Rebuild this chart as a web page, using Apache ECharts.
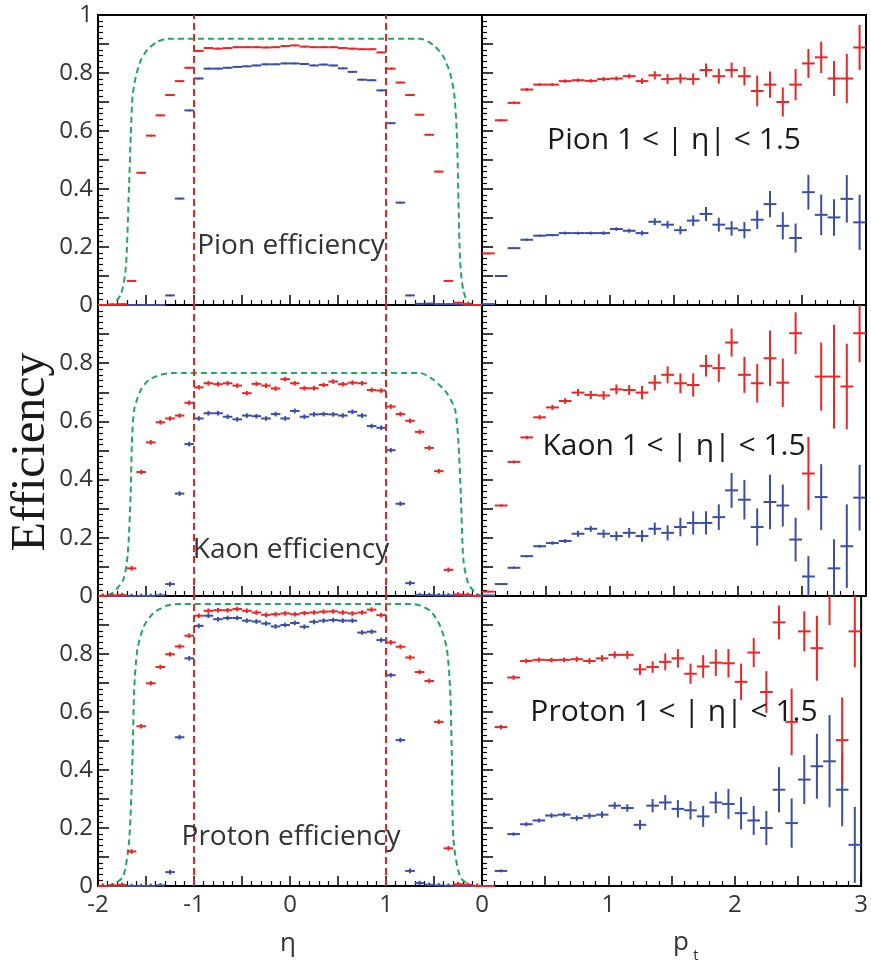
<!DOCTYPE html>
<html><head><meta charset="utf-8">
<script src="https://cdn.jsdelivr.net/npm/echarts@6/dist/echarts.min.js"></script>
<style>html,body{margin:0;padding:0;background:#fff}#c{width:871px;height:964px}</style>
</head><body><div id="c"></div>
<script>
// ---------- DATA ----------
const etaBins = [-1.95,-1.85,-1.75,-1.65,-1.55,-1.45,-1.35,-1.25,-1.15,-1.05,-0.95,-0.85,-0.75,-0.65,-0.55,-0.45,-0.35,-0.25,-0.15,-0.05,
                 0.05,0.15,0.25,0.35,0.45,0.55,0.65,0.75,0.85,0.95,1.05,1.15,1.25,1.35,1.45,1.55,1.65,1.75,1.85,1.95];
const ptBins = [0.05,0.15,0.25,0.35,0.45,0.55,0.65,0.75,0.85,0.95,1.05,1.15,1.25,1.35,1.45,1.55,1.65,1.75,1.85,1.95,
                2.05,2.15,2.25,2.35,2.45,2.55,2.65,2.75,2.85,2.95];
const etaBinWidth = 0.1;
const ptBinWidth = 0.1;

// efficiency vs eta (red = one selection, blue = the other)
const pionEtaRed  = [0,0.002,0.003,0.083,0.456,0.584,0.654,0.724,0.772,0.818,0.876,0.886,0.884,0.886,0.889,0.889,0.889,0.888,0.889,0.893,
                     0.895,0.891,0.889,0.889,0.889,0.886,0.884,0.882,0.882,0.871,0.815,0.767,0.724,0.656,0.587,0.460,0.083,0.008,0.004,0];
const pionEtaBlue = [0,0,0,0,0,0,0,0.033,0.367,0.671,0.781,0.815,0.815,0.818,0.821,0.823,0.826,0.830,0.830,0.833,
                     0.833,0.831,0.826,0.829,0.826,0.816,0.804,0.777,0.775,0.740,0.627,0.353,0.033,0.004,0.005,0.003,0.003,0.002,0,0];
const pionEtaErr = 0.003;
const kaonEtaRed  = [0,0.002,0.003,0.095,0.426,0.528,0.597,0.610,0.620,0.664,0.717,0.731,0.728,0.731,0.723,0.697,0.729,0.723,0.713,0.745,
                     0.731,0.714,0.714,0.725,0.737,0.728,0.733,0.731,0.708,0.706,0.651,0.625,0.602,0.564,0.509,0.429,0.090,0.005,0.004,0];
const kaonEtaBlue = [0,0,0,0,0,0,0.002,0.041,0.352,0.522,0.610,0.628,0.628,0.616,0.607,0.620,0.618,0.610,0.625,0.610,
                     0.636,0.616,0.624,0.625,0.624,0.620,0.633,0.620,0.584,0.578,0.501,0.317,0.044,0.003,0.003,0.002,0.002,0.001,0,0];
const kaonEtaErr = 0.008;
const protonEtaRed  = [0,0.002,0.004,0.119,0.551,0.699,0.755,0.799,0.826,0.863,0.932,0.949,0.951,0.951,0.955,0.949,0.943,0.935,0.937,0.940,
                       0.937,0.941,0.943,0.946,0.947,0.943,0.940,0.943,0.953,0.934,0.840,0.825,0.788,0.738,0.707,0.566,0.130,0.006,0.004,0];
const protonEtaBlue = [0,0,0,0,0,0,0.002,0.048,0.513,0.785,0.897,0.932,0.920,0.924,0.924,0.915,0.912,0.905,0.895,0.900,
                       0.907,0.894,0.911,0.915,0.917,0.915,0.915,0.874,0.877,0.848,0.727,0.503,0.052,0.010,0.004,0.002,0.001,0,0,0];
const protonEtaErr = 0.008;

// geometric acceptance curves (green dashed)
const pionAccEta = [-2.0,-1.866,-1.762,-1.71,-1.682,-1.658,-1.64,-1.606,-1.554,-1.484,-1.38,-1.277,1.357,1.495,1.599,1.668,1.71,1.738,1.755,1.772,1.807,1.876,2.0];
const pionAccVal = [0,0,0.037,0.13,0.36,0.59,0.72,0.787,0.844,0.881,0.908,0.918,0.918,0.896,0.856,0.798,0.729,0.59,0.36,0.152,0.048,0.002,0];
const kaonAccEta = [-2.0,-1.866,-1.74,-1.69,-1.66,-1.647,-1.623,-1.554,-1.47,-1.346,-1.24,1.357,1.495,1.634,1.72,1.755,1.779,1.807,1.859,1.945,2.0];
const kaonAccVal = [0,0.007,0.053,0.145,0.35,0.524,0.64,0.708,0.743,0.76,0.766,0.766,0.743,0.697,0.639,0.524,0.352,0.122,0.041,0.007,0];
const protonAccEta = [-2.0,-1.866,-1.74,-1.675,-1.64,-1.623,-1.589,-1.52,-1.416,-1.277,-1.15,1.287,1.46,1.564,1.634,1.668,1.686,1.703,1.772,1.876,2.0];
const protonAccVal = [0,0.003,0.032,0.159,0.448,0.678,0.817,0.897,0.943,0.967,0.972,0.972,0.949,0.897,0.817,0.678,0.448,0.159,0.032,0.003,0];

// efficiency vs pt for 1 < |eta| < 1.5
const pionPtRed  = [0.178,0.637,0.697,0.743,0.760,0.760,0.772,0.775,0.773,0.779,0.781,0.789,0.772,0.792,0.779,0.781,0.779,0.810,0.789,0.810,
                    0.789,0.738,0.760,0.700,0.760,0.833,0.854,0.781,0.781,0.888];
const pionPtRedErr = [0.003,0.004,0.005,0.005,0.005,0.005,0.006,0.006,0.006,0.007,0.007,0.008,0.010,0.014,0.017,0.017,0.020,0.023,0.026,0.026,
                      0.032,0.053,0.045,0.050,0.054,0.050,0.054,0.060,0.085,0.078];
const pionPtBlue = [0.003,0.100,0.196,0.225,0.239,0.241,0.248,0.248,0.248,0.248,0.262,0.256,0.248,0.287,0.277,0.258,0.291,0.314,0.277,0.264,
                    0.258,0.294,0.348,0.273,0.231,0.389,0.311,0.302,0.366,0.285];
const pionPtBlueErr = [0.002,0.003,0.003,0.004,0.004,0.004,0.005,0.005,0.005,0.006,0.006,0.007,0.008,0.012,0.013,0.014,0.018,0.024,0.024,0.025,
                       0.028,0.032,0.045,0.047,0.050,0.060,0.070,0.063,0.082,0.095];
const kaonPtRed  = [0.015,0.311,0.461,0.545,0.614,0.648,0.670,0.699,0.691,0.689,0.710,0.708,0.699,0.733,0.760,0.731,0.725,0.791,0.783,0.871,
                    0.760,0.731,0.817,0.733,0.903,0.421,0.754,0.754,0.720,0.903];
const kaonPtRedErr = [0.003,0.004,0.005,0.006,0.008,0.009,0.010,0.012,0.014,0.015,0.017,0.017,0.023,0.026,0.029,0.034,0.040,0.037,0.048,0.048,
                      0.062,0.066,0.095,0.083,0.072,0.126,0.117,0.178,0.147,0.100];
const kaonPtBlue = [0.002,0.041,0.097,0.137,0.171,0.182,0.189,0.214,0.231,0.214,0.206,0.217,0.206,0.231,0.217,0.237,0.251,0.251,0.271,0.363,
                    0.331,0.237,0.323,0.311,0.194,0.067,0.340,0.095,0.171,0.338];
const kaonPtBlueErr = [0.002,0.003,0.004,0.004,0.005,0.006,0.007,0.010,0.010,0.014,0.016,0.017,0.020,0.021,0.026,0.032,0.040,0.040,0.044,0.060,
                       0.068,0.064,0.094,0.072,0.075,0.070,0.113,0.100,0.144,0.113];
const protonPtRed  = [0.0,0.548,0.719,0.776,0.780,0.779,0.780,0.782,0.776,0.785,0.797,0.797,0.747,0.755,0.773,0.785,0.732,0.757,0.770,0.768,
                      0.704,0.805,0.669,0.909,0.566,0.878,0.820,1.030,0.503,0.878];
const protonPtRedErr = [0.002,0.008,0.008,0.008,0.008,0.008,0.008,0.009,0.010,0.011,0.012,0.014,0.019,0.020,0.029,0.032,0.035,0.039,0.046,0.049,
                        0.063,0.050,0.072,0.058,0.115,0.069,0.112,0.130,0.147,0.124];
const protonPtBlue = [0.0,0.052,0.179,0.213,0.226,0.243,0.246,0.234,0.242,0.246,0.277,0.269,0.211,0.277,0.288,0.266,0.261,0.240,0.288,0.283,
                      0.251,0.226,0.200,0.332,0.217,0.367,0.413,0.430,0.332,0.142];
const protonPtBlueErr = [0.002,0.005,0.006,0.007,0.007,0.008,0.008,0.009,0.010,0.011,0.012,0.013,0.017,0.023,0.026,0.030,0.032,0.036,0.037,0.052,
                         0.056,0.050,0.059,0.078,0.085,0.084,0.112,0.159,0.126,0.131];

// tick labels
const yTickValues = [0,0.2,0.4,0.6,0.8,1];
const yTickLabels = ['0','0.2','0.4','0.6','0.8','1'];
const etaTickValues = [-2,-1,0,1];
const etaTickLabels = ['-2','-1','0','1'];
const ptTickValues = [0,1,2,3];
const ptTickLabels = ['0','1','2','3'];
const etaCuts = [-1,1];

const panelLeftTitles = ['Pion efficiency','Kaon efficiency','Proton efficiency'];
const panelRightTitles = ['Pion 1 < | η| < 1.5','Kaon 1 < | η| < 1.5','Proton 1 < | η| < 1.5'];

// ---------- STYLE / LAYOUT ----------
const RED = '#ee2424', BLUE = '#3a4ea6', GREEN = '#22a85a';
const FONT = '"Open Sans", "DejaVu Sans", sans-serif';
const tops = [15, 305, 596], heights = [290, 291, 290];
const leftX = 98, rightX = 482, panelW = 384;

function lookupLabel(vals, labels) {
  return function (v) {
    for (let i = 0; i < vals.length; i++) if (Math.abs(v - vals[i]) < 1e-6) return labels[i];
    return '';
  };
}

const grids = [], xAxes = [], yAxes = [], series = [];
for (let col = 0; col < 2; col++) {
  for (let row = 0; row < 3; row++) {
    grids.push({ left: col ? rightX : leftX, top: tops[row], width: panelW, height: heights[row],
                 show: true, borderColor: '#000', borderWidth: 2, containLabel: false });
    const idx = grids.length - 1;
    const isEta = col === 0;
    xAxes.push({
      type: 'value', gridIndex: idx,
      min: isEta ? -2 : 0, max: isEta ? 2 : 3, interval: 0.5,
      axisLine: { show: true, onZero: false, lineStyle: { color: '#000', width: 2 } },
      axisTick: { show: true, inside: true, length: 10, lineStyle: { color: '#000', width: 1.5 } },
      minorTick: { show: true, splitNumber: 5, length: 5, lineStyle: { color: '#000', width: 1.2 } },
      splitLine: { show: false },
      axisLabel: {
        show: row === 2, margin: 7, color: '#333', fontSize: 24, fontFamily: FONT,
        showMinLabel: true, showMaxLabel: true,
        formatter: isEta ? lookupLabel(etaTickValues, etaTickLabels) : lookupLabel(ptTickValues, ptTickLabels)
      }
    });
    yAxes.push({
      type: 'value', gridIndex: idx, min: 0, max: 1, interval: 0.1,
      axisLine: { show: true, onZero: false, lineStyle: { color: '#000', width: 2 } },
      axisTick: { show: true, inside: true, length: 11, lineStyle: { color: '#000', width: 1.5 } },
      minorTick: { show: true, splitNumber: 5, length: 5, lineStyle: { color: '#000', width: 1.2 } },
      splitLine: { show: false },
      axisLabel: {
        show: col === 0, margin: 5, color: '#333', fontSize: 24, fontFamily: FONT,
        formatter: (function (r) {
          const f = lookupLabel(yTickValues, yTickLabels);
          return function (v) { if (r > 0 && Math.abs(v - 1) < 1e-6) return ''; return f(v); };
        })(row)
      }
    });
  }
}

function errRenderer(halfW) {
  return function (params, api) {
    const x = api.value(0), y = api.value(1), e = api.value(2);
    const cs = params.coordSys;
    const top = cs.y, bot = cs.y + cs.height;
    const pL = api.coord([x - halfW, y]), pR = api.coord([x + halfW, y]);
    const pU = api.coord([x, y + e]), pD = api.coord([x, y - e]);
    const color = api.visual('color');
    const children = [];
    if (pL[1] >= top - 0.5 && pL[1] <= bot + 0.5) {
      children.push({ type: 'line', shape: { x1: pL[0], y1: pL[1], x2: pR[0], y2: pR[1] },
                      style: { stroke: color, lineWidth: 2 } });
    }
    const y1 = Math.max(top, Math.min(bot, pU[1])), y2 = Math.max(top, Math.min(bot, pD[1]));
    if (y2 - y1 > 1) {
      children.push({ type: 'line', shape: { x1: pU[0], y1: y1, x2: pD[0], y2: y2 },
                      style: { stroke: color, lineWidth: 2 } });
    }
    return { type: 'group', children: children };
  };
}

function errSeries(gi, xs, ys, errs, color, halfW) {
  return {
    type: 'custom', xAxisIndex: gi, yAxisIndex: gi, itemStyle: { color: color },
    renderItem: errRenderer(halfW), silent: true, z: 3,
    data: xs.map((x, i) => [x, ys[i], Array.isArray(errs) ? errs[i] : errs])
  };
}

const etaSets = [
  [pionEtaRed, pionEtaBlue, pionEtaErr, pionAccEta, pionAccVal],
  [kaonEtaRed, kaonEtaBlue, kaonEtaErr, kaonAccEta, kaonAccVal],
  [protonEtaRed, protonEtaBlue, protonEtaErr, protonAccEta, protonAccVal]
];
const ptSets = [
  [pionPtRed, pionPtRedErr, pionPtBlue, pionPtBlueErr],
  [kaonPtRed, kaonPtRedErr, kaonPtBlue, kaonPtBlueErr],
  [protonPtRed, protonPtRedErr, protonPtBlue, protonPtBlueErr]
];

etaSets.forEach((s, row) => {
  series.push({
    type: 'line', xAxisIndex: row, yAxisIndex: row, showSymbol: false, silent: true,
    smooth: 0.25, z: 2,
    lineStyle: { color: GREEN, width: 2, type: [6, 4] },
    data: s[3].map((x, i) => [x, s[4][i]]),
    markLine: {
      silent: true, symbol: ['none', 'none'], label: { show: false },
      lineStyle: { color: '#e8221c', width: 2, type: [7, 4] },
      data: etaCuts.map(v => ({ xAxis: v }))
    }
  });
  series.push(errSeries(row, etaBins, s[1], s[2], BLUE, etaBinWidth / 2));
  series.push(errSeries(row, etaBins, s[0], s[2], RED, etaBinWidth / 2));
});
ptSets.forEach((s, row) => {
  series.push(errSeries(3 + row, ptBins, s[2], s[3], BLUE, ptBinWidth / 2));
  series.push(errSeries(3 + row, ptBins, s[0], s[1], RED, ptBinWidth / 2));
});

const graphic = [];
const leftTitleY = [246, 550, 837];
const rightTitleY = [140, 446, 712];
function txt(text, x, y, font, fill, extra) {
  return Object.assign({
    type: 'text', x: x, y: y, silent: true, z: 10,
    style: { text: text, font: font, fill: fill, align: 'center', verticalAlign: 'middle',
             textAlign: 'center', textVerticalAlign: 'middle' }
  }, extra || {});
}
panelLeftTitles.forEach((t, i) => graphic.push(txt(t, 291, leftTitleY[i], '28px ' + FONT, '#333')));
panelRightTitles.forEach((t, i) => graphic.push(txt(t, 674, rightTitleY[i], '30px ' + FONT, '#1a1a1a')));
graphic.push(txt('Efficiency', 31, 452, '48px "Liberation Serif", "Times New Roman", serif', '#1a1a1a', { rotation: Math.PI / 2 }));
graphic.push(txt('η', 288, 944, '26px ' + FONT, '#333'));
graphic.push(txt('p', 681, 943, '26px ' + FONT, '#333'));
graphic.push(txt('t', 696, 956, '15px ' + FONT, '#333'));

const chart = echarts.init(document.getElementById('c'), null, { renderer: 'canvas' });
chart.setOption({
  animation: false,
  backgroundColor: '#fff',
  grid: grids, xAxis: xAxes, yAxis: yAxes, series: series, graphic: graphic
});
</script>
</body></html>
